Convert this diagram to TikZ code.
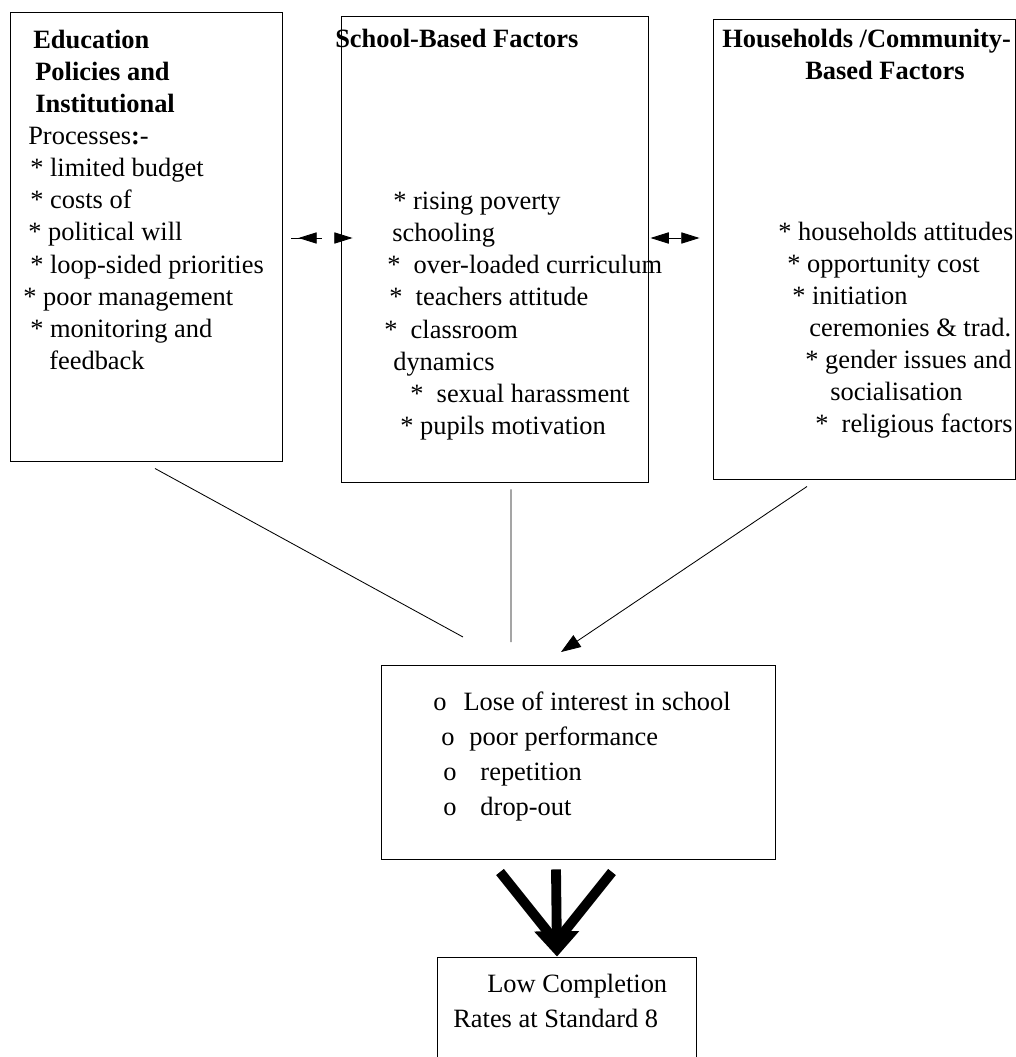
\documentclass[tikz,border=0pt]{standalone}
\usepackage{fontspec}
\setmainfont{Liberation Serif}
\usepackage{tikz}
\usetikzlibrary{arrows.meta,calc}
\newlength{\px}
\setlength{\px}{0.025cm}

\begin{document}
\begin{tikzpicture}[x=0.025cm, y=-0.025cm,
    factorbox/.style={rectangle, draw=black, line width=0.6pt, inner sep=0pt},
    bodytext/.style={anchor=north west, inner sep=0pt, align=left, font=\fontsize{18.8}{22.8}\selectfont},
    outtext/.style={bodytext, font=\fontsize{18.8}{24.9}\selectfont},
    headtext/.style={bodytext, font=\fontsize{18.8}{22.8}\selectfont\bfseries},
    link/.style={line width=0.6pt},
    tips/.style={link, {Triangle[length=13pt,width=8pt]}-{Triangle[length=13pt,width=8pt]}},
    fatline/.style={line width=7pt}
]
    \useasboundingbox (0,0) rectangle (1016,1057);
    \clip (0,0) rectangle (1016,1057);

    % boxes
    \node[factorbox, minimum width=6.8cm, minimum height=11.225cm] (policy) at (146,236.5) {};
    \node[factorbox, minimum width=7.675cm, minimum height=11.65cm] (school) at (494.5,249) {};
    \node[factorbox, minimum width=7.55cm, minimum height=11.5cm] (home) at (864,249) {};
    \node[factorbox, minimum width=9.85cm, minimum height=4.85cm] (effect) at (578,762) {};
    \node[factorbox, minimum width=6.475cm, minimum height=3.325cm] (result) at (566.5,1023.5) {};

    % texts
    \node[bodytext] (policytext) at (23,30) {\hspace*{10\px}\textbf{Education}\\
        \hspace*{12\px}\textbf{Policies and}\\
        \hspace*{12\px}\textbf{Institutional}\\
        \hspace*{5\px}Processes\textbf{:}-\\
        \hspace*{7\px}* limited budget\\
        \hspace*{7\px}* costs of\\
        \hspace*{5\px}* political will\\
        \hspace*{7\px}* loop-sided priorities\\
        * poor management\\
        \hspace*{7\px}* monitoring and\\
        \hspace*{26\px}feedback};
    \node[headtext] (schoolhead) at (335,29) {School-Based Factors};
    \node[bodytext] (schooltext) at (384,192) {\hspace*{9\px}* rising poverty\\
        \hspace*{8\px}schooling\\
        \hspace*{3\px}*\ \ over-loaded curriculum\\
        \hspace*{5\px}*\ \ teachers attitude\\
        *\ \ classroom\\
        \hspace*{9\px}dynamics\\
        \hspace*{26\px}*\ \ sexual harassment\\
        \hspace*{16\px}* pupils motivation};
    \node[headtext] (homehead) at (722,29) {Households /Community-\\
        \hspace*{83\px}Based Factors};
    \node[bodytext] (hometext) at (778,222) {* households attitudes\\
        \hspace*{9\px}* opportunity cost\\
        \hspace*{14\px}* initiation\\
        \hspace*{31\px}ceremonies \& trad.\\
        \hspace*{27\px}* gender issues and\\
        \hspace*{52\px}socialisation\\
        \hspace*{37\px}*\ \ religious factors};
    \node[outtext] (effecttext) at (433,692) {o\hspace{17\px}Lose of interest in school\\
        \hspace*{8\px}o\hspace{15\px}poor performance\\
        \hspace*{10\px}o\hspace{24\px}repetition\\
        \hspace*{10\px}o\hspace{24\px}drop-out};
    \node[outtext] (resulttext) at (453,974) {\hspace*{34\px}Low Completion\\
        Rates at Standard 8};

    % links between the factor boxes
    \draw[link] ($(policy.east)+(9,1.5)$) -- ($(policy.east)+(40,1.5)$);
    \draw[tips, dash pattern=on 0pt off 100pt] ($(policy.east)+(16,1.5)$) -- ($(policy.east -| school.west)+(12,1.5)$);
    \draw[tips] ($(school.east)+(2,-11)$) -- ($(home.west)+(-13,-11)$);

    \coordinate (meetL) at (463,637);
    \coordinate (meetM) at (511,642);
    \coordinate (meetR) at (561,652);
    \draw[link] ($(policy.south)+(9,7)$) -- (meetL);
    \draw[link] ($(school.south)+(16.5,7)$) -- (meetM);
    \draw[link, -{Triangle[length=14pt,width=10pt]}] ($(home.south)+(-57,7)$) -- (meetR);

    % fat arrow to the result
    \coordinate (armL) at (500,872);
    \coordinate (armR) at (612,872);
    \coordinate (armtip) at (556,942);
    \draw[fatline] (armL) -- (armtip);
    \draw[fatline] (armR) -- (armtip);
    \draw[fatline, -{Triangle[length=18pt,width=31pt]}] ($(effect.south)+(-22,10)$) -- ($(result.north)+(-9.5,0)$);
\end{tikzpicture}
\end{document}
